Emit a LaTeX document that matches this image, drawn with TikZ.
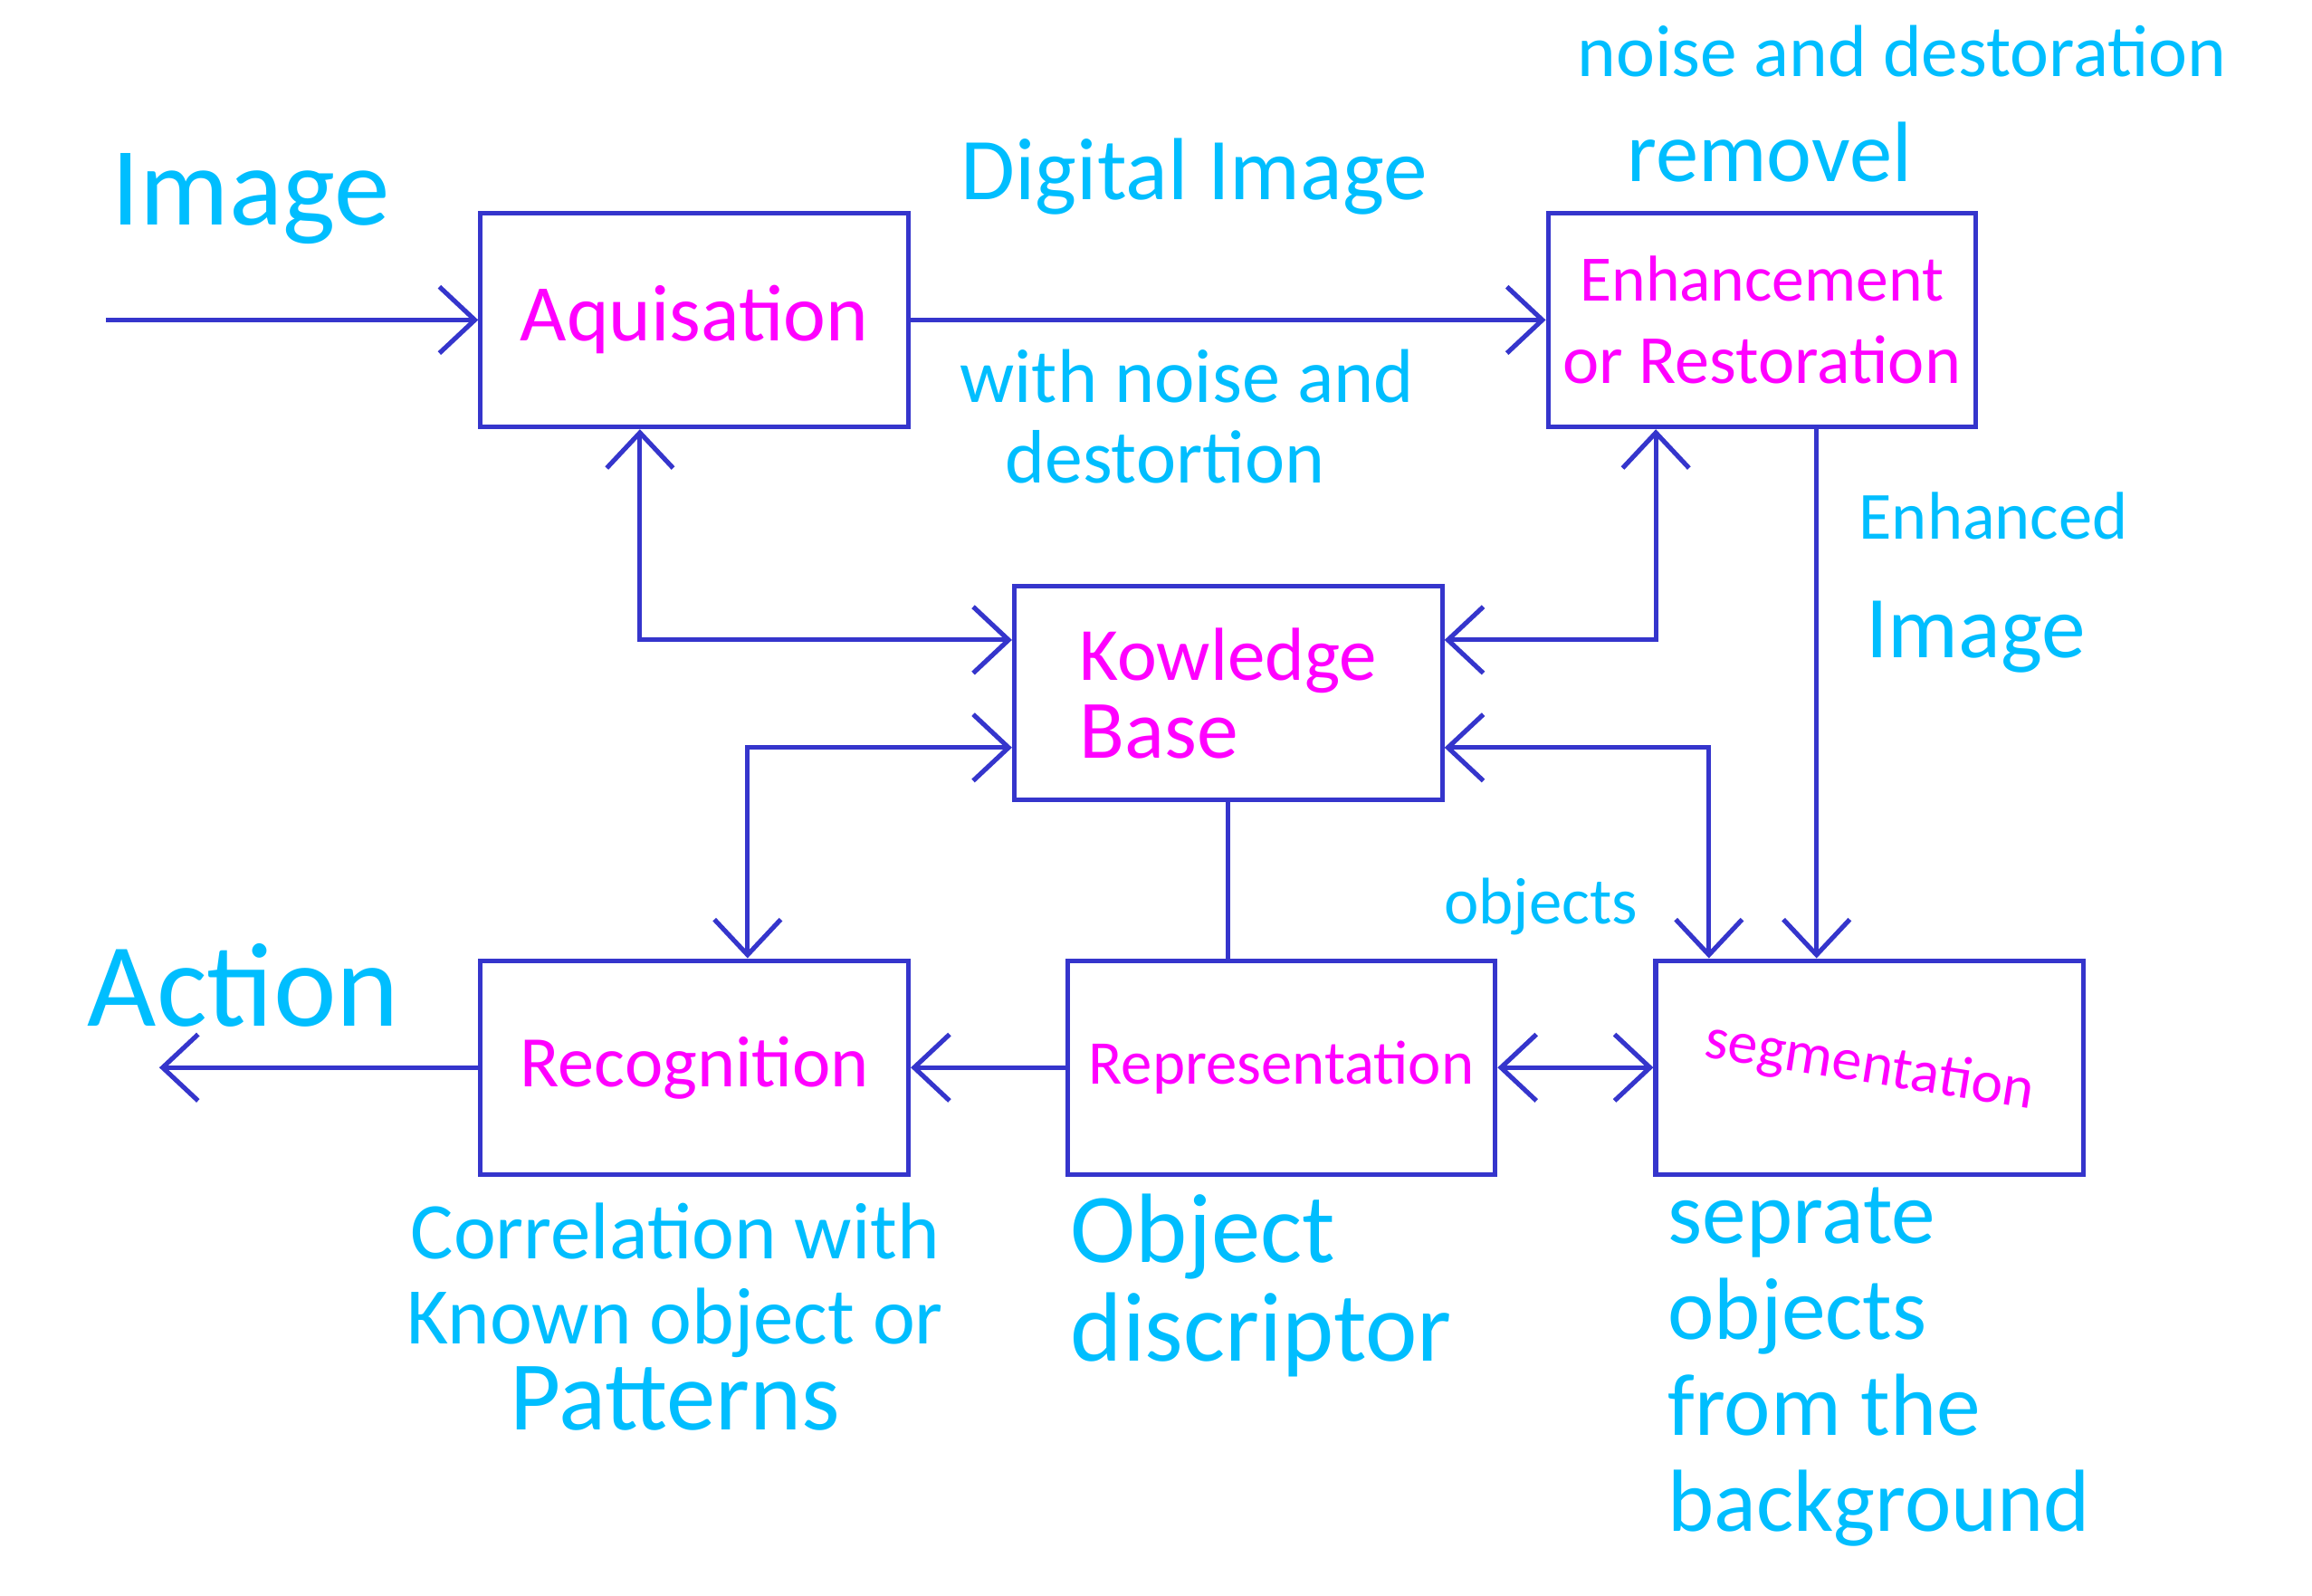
\documentclass[tikz,border=0pt]{standalone}
\usepackage{fontspec}
\setmainfont{Carlito}
\usetikzlibrary{arrows.meta}
\definecolor{boxblue}{RGB}{53,53,204}
\definecolor{inkcyan}{RGB}{0,190,255}
\definecolor{inkpink}{RGB}{255,0,255}
\newcommand{\fsz}[2]{\fontsize{#1}{#2}\selectfont}
\tikzset{
  blk/.style={draw=boxblue, line width=0.9pt, minimum width=2.9cm, minimum height=1.45cm, inner sep=1pt, text=inkpink},
  lbl/.style={text=inkcyan, inner sep=1pt},
  arr/.style={draw=boxblue, line width=0.9pt, -{Straight Barb[length=2.4mm, width=4.5mm]}},
  dbl/.style={draw=boxblue, line width=0.9pt, {Straight Barb[length=2.4mm, width=4.5mm]}-{Straight Barb[length=2.4mm, width=4.5mm]}},
  wire/.style={draw=boxblue, line width=0.9pt}
}
\begin{document}
\begin{tikzpicture}[x=0.01cm, y=-0.01cm]
      \useasboundingbox (0,0) rectangle (1568,1082);
      \draw[draw=none]
        (471,217) node[blk, font=\fsz{15.5}{16}] (aq){Aquisation}
        (1195,217) node[blk, align=center, font=\fsz{12.5}{16}] (enh){Enhancement\\\fsz{13.3}{16}or Restoration}
        (833,470) node[blk, align=left, font=\fsz{14.5}{15}] (kb){Kowledge\\\fsz{16}{15}Base}
        (471,724) node[blk, font=\fsz{14}{14}] (rec){Recognition}
        (869,724) node[blk, font=\fsz{12}{12}] (rep){Representation}
        (1268,724) node[blk, font=\fsz{11.5}{12}] (seg){\rotatebox{-9}{segmentation}};
      \draw[draw=none]
        (170,135) node[lbl, font=\fsz{21.5}{22}] (lImg){Image}
        (810,120) node[lbl, font=\fsz{17}{17}] (lDig){Digital Image}
        (1290,35) node[lbl, font=\fsz{14.2}{15}] (lNoise){noise and destoration}
        (1200,103) node[lbl, font=\fsz{16.5}{17}] (lRem){removel}
        (805,255) node[lbl, font=\fsz{14.7}{15}] (lWith){with noise and}
        (790,310) node[lbl, font=\fsz{14.6}{15}] (lDest){destortion}
        (1352,350) node[lbl, font=\fsz{13}{13}] (lEnh){Enhanced}
        (1340,432) node[lbl, font=\fsz{17}{17}] (lImg2){Image}
        (1045,615) node[lbl, font=\fsz{12.7}{13}] (lObj){objects}
        (165,668) node[lbl, font=\fsz{23}{23}] (lAct){Action}
        (458,893) node[lbl, align=center, font=\fsz{15.5}{16.5}] (lCorr){Correlation with\\Known object or\\\fsz{19}{16.5}Patterns}
        (722,872) node[lbl, anchor=west, align=left, font=\fsz{19}{19}] (lDesc){Object\\discriptor}
        (1127,927) node[lbl, anchor=west, align=left, font=\fsz{17}{18.5}] (lSep){seprate\\objects\\from the\\background};
      \coordinate (in) at (72,217);
      \coordinate (out) at (108,724);
      \coordinate (c1) at (434,434);
      \coordinate (c2) at (1123,434);
      \coordinate (c3) at (507,507);
      \coordinate (c4) at (1159,507);
      \coordinate (c5) at (1232,0);
      \begin{scope}
        \draw[arr] (in) to (aq.west);
        \draw[arr] (aq.east) to (enh.west);
        \draw[dbl] (aq.south -| c1) |- (kb.west |- c1);
        \draw[dbl] (enh.south -| c2) |- (kb.east |- c2);
        \draw[dbl] (kb.west |- c3) -| (rec.north -| c3);
        \draw[dbl] (kb.east |- c4) -| (seg.north -| c4);
        \draw[arr] (enh.south -| c5) to (seg.north -| c5);
        \draw[wire] (kb.south) to (kb.south |- rep.north);
        \draw[arr] (rep.west) to (rec.east);
        \draw[dbl] (rep.east) to (seg.west);
        \draw[arr] (rec.west) to (out);
      \end{scope}
    \end{tikzpicture}
\end{document}
